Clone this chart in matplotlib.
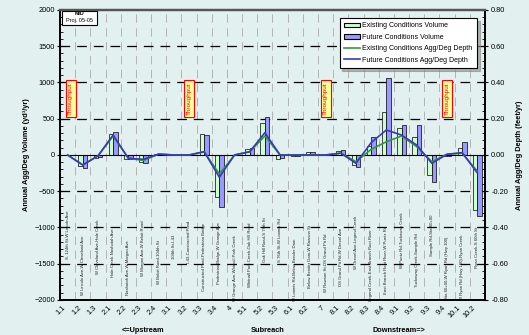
import matplotlib
matplotlib.use("Agg")
import matplotlib.pyplot as plt
import numpy as np
from matplotlib.patches import Patch, Rectangle
from matplotlib.lines import Line2D
from matplotlib.ticker import MultipleLocator, FormatStrFormatter

plt.rcParams['font.family'] = ['Liberation Sans', 'DejaVu Sans']
plt.rcParams['lines.scale_dashes'] = False

categories = ["1.1", "1.2", "1.3", "2.1", "2.2", "2.3", "2.4", "3.1", "3.2", "3.3", "3.4", "4",
              "5.1", "5.2", "5.3", "6.1", "6.2", "7", "8.1", "8.2", "8.3", "8.4", "9.1", "9.2",
              "9.3", "9.4", "10.1", "10.2"]
reach_names = ["S. 124th St-W Lincoln Ave", "W Lincoln Ave-W Cleveland Ave", "W Cleveland Ave-Hale Creek",
               "Hale Creek-Nashotah Ave", "Nashotah Ave-W Morgan Ave", "W Morgan Ave-W Beloit Road",
               "W Beloit Road-104th St", "104th St-I-43", "I-43-Constructed Pond",
               "Constructed Pond-Pedestrian Bridge", "Pedestrian Bridge-W Grange Ave",
               "W Grange Ave-Whitnall Park Creek", "Whitnall Park Creek-Oak Hill Road",
               "Oak Hill Road-S 76th St", "S 76th St-W Loomis Rd", "W Loomis Rd-Below Bender Dam",
               "Below Bender Dam-W Rawson St", "W Rawson St-DS Grand Pit Rd", "DS Grand Pit Rd-W Drexel Ave",
               "W Drexel Ave-Legend Creek", "Legend Creek-East Branch Root River",
               "East Branch Root River-W Puetz Rd", "W Puetz Rd-Tuckaway Creek", "Tuckaway Creek-Sample Rd",
               "Sample Rd-Sta 60+00", "Sta 60+00-W Ryan Rd (Hwy 100)", "W Ryan Rd (Hwy 100)-Ryan Creek",
               "Ryan Creek-S 60th St"]
existing_volume = [0, -155, -35, 290, -50, -95, 15, 0, 0, 285, -585, 0, 78, 440, -60, -10, 45, 0,
                   55, -140, 125, 595, 370, 245, -275, -10, 90, -760]
future_volume = [0, -180, -25, 315, -50, -115, 20, 0, 0, 275, -715, 0, 90, 530, -35, -10, 40, 0,
                 62, -170, 245, 1065, 415, 415, -370, -10, 185, -840]
existing_depth = [0, -0.055, -0.005, 0.105, -0.018, -0.03, 0.005, 0, 0, 0.018, -0.105, 0, 0.018, 0.105,
                  0, 0, 0, 0, 0.01, -0.037, 0.031, 0.073, 0.105, 0.046, -0.037, 0.004, 0.01, -0.09]
future_depth = [0, -0.055, -0.005, 0.11, -0.018, -0.024, 0.005, 0, 0, 0.018, -0.123, 0, 0.018, 0.123,
                0, 0, 0, 0, 0.01, -0.046, 0.068, 0.138, 0.11, 0.055, -0.046, 0.004, 0.013, -0.10]
throughput_reaches = ["1.1", "3.2", "7", "9.4"]

# label vertical positions (layout only)
name_y = [-1103, -1517, -1269, -1351, -1558, -1282, -1475, -1269, -1200, -1406, -1351, -1558,
          -1379, -1172, -1172, -1586, -1406, -1489, -1406, -1200, -1517, -1448, -1172, -1448,
          -1103, -1558, -1544, -1282]

bg = '#e2f0f0'
fig = plt.figure(figsize=(5.29, 3.35), dpi=100, facecolor=bg)
ax = fig.add_axes([0.1134, 0.1045, 0.8034, 0.8657])
ax.set_facecolor(bg)
ax2 = ax.twinx()

x = np.arange(len(categories))
w = 0.29
ax.set_xlim(-0.5, len(categories) - 0.5)
ax.set_ylim(-2000, 2000)
ax2.set_ylim(-0.8, 0.8)

# grid
for b in np.arange(0.5, len(categories) - 0.5, 1):
    ax.axvline(b, color='#aaaaaa', lw=0.6, ls=(0, (6, 4)), zorder=0)
for g in [-1500, -1000, -500, 500, 1000, 1500]:
    ax.axhline(g, color='black', lw=0.9, ls=(0, (7, 5)), zorder=0.5)
ax.axhline(0, color='black', lw=0.8, zorder=3)

ax.bar(x - w / 2, existing_volume, w, color='#ccffcc', edgecolor='black', lw=0.5, zorder=2)
ax.bar(x + w / 2, future_volume, w, color='#9999ff', edgecolor='black', lw=0.5, zorder=2)

ax2.plot(x, existing_depth, color='#33993a', lw=1.2, zorder=3)
ax2.plot(x, future_depth, color='#3a3ab8', lw=1.2, zorder=4)

for i, name in enumerate(reach_names):
    ax.text(i, name_y[i], name, rotation=90, fontsize=3.1, ha='center', va='center', color='#222222', zorder=1)

for r in throughput_reaches:
    i = categories.index(r)
    ax.text(i + (0.2 if i == 0 else 0), 780, "Throughput", rotation=90, fontsize=4.6, color='red',
            ha='center', va='center', zorder=5,
            bbox=dict(boxstyle='square,pad=0.4', facecolor='#ffff99', edgecolor='red', lw=0.8))

# MID box
ax.add_patch(Rectangle((0.005, 0.948), 0.082, 0.05, transform=ax.transAxes, fc='white', ec='black', lw=0.8, zorder=6))
ax.text(0.046, 0.987, "MID", transform=ax.transAxes, fontsize=3.8, fontweight='bold', ha='center', va='center', zorder=7)
ax.text(0.046, 0.964, "Proj. 05-05", transform=ax.transAxes, fontsize=4.0, ha='center', va='center', zorder=7)

# axes styling
ax.set_xticks(x)
ax.set_xticklabels(categories, rotation=45, ha='right', fontsize=5.3)
ax.tick_params(axis='x', length=0, pad=3)
ax.yaxis.set_major_locator(MultipleLocator(500))
ax.yaxis.set_minor_locator(MultipleLocator(100))
ax.tick_params(axis='y', which='major', direction='inout', length=5, width=0.8, labelsize=5.3, pad=1)
ax.tick_params(axis='y', which='minor', direction='in', length=2.5, width=0.6)
ax2.yaxis.set_major_locator(MultipleLocator(0.2))
ax2.yaxis.set_minor_locator(MultipleLocator(0.04))
ax2.yaxis.set_major_formatter(FormatStrFormatter('%.2f'))
ax2.tick_params(axis='y', which='major', direction='inout', length=5, width=0.8, labelsize=5.3, pad=2)
ax2.tick_params(axis='y', which='minor', direction='in', length=2.5, width=0.6)

for s in ['left', 'right', 'bottom']:
    ax.spines[s].set_linewidth(1.2)
    ax2.spines[s].set_linewidth(1.2)
ax.spines['top'].set_color('#555555')
ax.spines['top'].set_linewidth(1.6)
ax2.spines['top'].set_color('#555555')
ax2.spines['top'].set_linewidth(1.6)

ax.set_ylabel("Annual Agg/Deg Volume (yd³/yr)", fontsize=5.3, fontweight='bold', labelpad=3)
ax2.set_ylabel("Annual Agg/Deg Depth (feet/yr)", fontsize=5.3, fontweight='bold', labelpad=6, rotation=90)

fig.text(143 / 529, 0.012, "<=Upstream", fontsize=5.3, fontweight='bold', ha='center', va='center')
fig.text(268 / 529, 0.012, "Subreach", fontsize=5.3, fontweight='bold', ha='center', va='center')
fig.text(399 / 529, 0.012, "Downstream=>", fontsize=5.3, fontweight='bold', ha='center', va='center')

handles = [Patch(facecolor='#ccffcc', edgecolor='black', lw=0.8),
           Patch(facecolor='#9999ff', edgecolor='black', lw=0.8),
           Line2D([], [], color='#33993a', lw=1.2),
           Line2D([], [], color='#3a3ab8', lw=1.2)]
labels = ["Existing Conditions Volume", "Future Conditions Volume",
          "Existing Conditions Agg/Deg Depth", "Future Conditions Agg/Deg Depth"]
leg = ax2.legend(handles, labels, loc='upper right', bbox_to_anchor=(0.981, 0.972), fontsize=5,
                 frameon=True, fancybox=False, shadow={'color': '#888888', 'alpha': 0.6},
                 borderaxespad=0, labelspacing=0.65,
                 handlelength=2.4, handleheight=0.6, handletextpad=0.3, borderpad=0.6)
leg.get_frame().set_edgecolor('black')
leg.get_frame().set_linewidth(0.8)
leg.set_zorder(10)

fig.savefig("out.png", dpi=100, facecolor=bg)
